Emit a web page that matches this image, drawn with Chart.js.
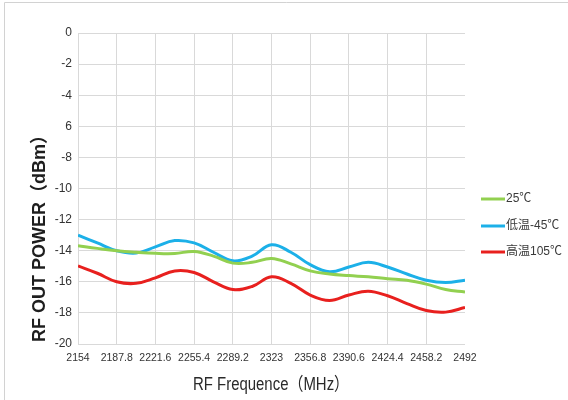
<!DOCTYPE html>
<html>
<head>
<meta charset="utf-8">
<script src="https://cdn.jsdelivr.net/npm/chart.js@4/dist/chart.umd.min.js"></script>
<style>
  html, body { margin: 0; padding: 0; background: #ffffff; }
  #wrap { position: relative; width: 568px; height: 400px; }
</style>
</head>
<body>
<div id="wrap"><canvas id="c" width="568" height="400"></canvas></div>
<script>
// Measurement frequencies (MHz)
const freqs = [2154, 2170.9, 2187.8, 2204.7, 2221.6, 2238.5, 2255.4, 2272.3, 2289.2, 2306.1,
               2323, 2339.9, 2356.8, 2373.7, 2390.6, 2407.5, 2424.4, 2441.3, 2458.2, 2475.1, 2492];

// Output power (dBm) per temperature
const power25 = [-13.68, -13.85, -14.0, -14.1, -14.17, -14.18, -14.05, -14.35, -14.8, -14.75,
                 -14.5, -14.85, -15.3, -15.5, -15.6, -15.68, -15.8, -15.9, -16.15, -16.5, -16.65];
const powerLow = [-13.0, -13.5, -14.0, -14.15, -13.75, -13.35, -13.5, -14.1, -14.65, -14.35,
                  -13.62, -14.1, -14.9, -15.35, -15.05, -14.75, -15.05, -15.5, -15.9, -16.05, -15.9];
const powerHigh = [-14.98, -15.45, -16.0, -16.1, -15.75, -15.3, -15.4, -16.0, -16.5, -16.3,
                   -15.68, -16.1, -16.85, -17.2, -16.85, -16.6, -16.9, -17.4, -17.85, -17.95, -17.65];

const seriesNames = ['25℃', '低温-45℃', '高温105℃'];
const seriesColors = ['#92d050', '#1cb0e8', '#e8201e'];

// Axis ticks
const xTickValues = [2154, 2187.8, 2221.6, 2255.4, 2289.2, 2323, 2356.8, 2390.6, 2424.4, 2458.2, 2492];
const xTickLabels = ['2154', '2187.8', '2221.6', '2255.4', '2289.2', '2323', '2356.8', '2390.6', '2424.4', '2458.2', '2492'];
const yTickValues = [0, -2, -4, -6, -8, -10, -12, -14, -16, -18, -20];
const yTickLabels = ['0', '-2', '-4', '6', '-8', '-10', '-12', '-14', '-16', '-18', '-20'];

const xTitle = 'RF Frequence（MHz）';
const yTitle = 'RF OUT POWER（dBm）';

const narrowFont = '"Liberation Sans Narrow", "Liberation Sans", "Noto Sans CJK SC", sans-serif';

const seriesValues = [power25, powerLow, powerHigh];
const datasets = seriesValues.map((vals, s) => ({
  label: seriesNames[s],
  data: freqs.map((f, i) => ({ x: f, y: vals[i] })),
  borderColor: seriesColors[s],
  backgroundColor: seriesColors[s],
  borderWidth: 3,
  pointRadius: 0,
  tension: 0.4,
  fill: false
}));

// Frame, axis titles and the legend on the right
const decor = {
  id: 'decor',
  afterDraw(chart) {
    const ctx = chart.ctx;
    ctx.save();
    ctx.strokeStyle = '#d2d2d2';
    ctx.lineWidth = 1;
    ctx.beginPath();
    ctx.moveTo(4.5, 400);
    ctx.lineTo(4.5, 2.5);
    ctx.lineTo(568, 2.5);
    ctx.stroke();
    ctx.restore();

    ctx.save();
    ctx.translate(40, 234);
    ctx.rotate(-Math.PI / 2);
    ctx.font = 'bold 18px "Liberation Sans", "Noto Sans CJK SC", sans-serif';
    ctx.textAlign = 'center';
    ctx.textBaseline = 'middle';
    ctx.fillStyle = '#1e1e1e';
    ctx.fillText(yTitle, 0, 0);
    ctx.restore();

    ctx.save();
    ctx.translate(271, 385);
    ctx.scale(0.83, 1);
    ctx.font = '18px ' + narrowFont;
    ctx.textAlign = 'center';
    ctx.textBaseline = 'middle';
    ctx.fillStyle = '#2a2a2a';
    ctx.fillText(xTitle, 0, 0);
    ctx.restore();

    const legendY = [199, 226, 252];
    ctx.save();
    ctx.font = '12px ' + narrowFont;
    ctx.textBaseline = 'middle';
    ctx.textAlign = 'left';
    chart.data.datasets.forEach((ds, i) => {
      ctx.strokeStyle = ds.borderColor;
      ctx.lineWidth = 3;
      ctx.beginPath();
      ctx.moveTo(481, legendY[i]);
      ctx.lineTo(505, legendY[i]);
      ctx.stroke();
      ctx.fillStyle = '#3a3a3a';
      ctx.fillText(ds.label, 506, legendY[i]);
    });
    ctx.restore();
  }
};

new Chart(document.getElementById('c'), {
  type: 'line',
  data: { datasets },
  options: {
    responsive: false,
    animation: false,
    devicePixelRatio: 1,
    layout: { padding: { left: 0, right: 103, top: 33, bottom: 0 } },
    plugins: { legend: { display: false }, tooltip: { enabled: false } },
    scales: {
      x: {
        type: 'linear',
        min: 2154,
        max: 2492,
        afterBuildTicks(scale) { scale.ticks = xTickValues.map(v => ({ value: v })); },
        afterFit(scale) { scale.height = 56; },
        border: { display: false },
        grid: {
          drawTicks: false,
          lineWidth: 1,
          color: (c) => (c.index === xTickValues.length - 1 ? 'rgba(0,0,0,0)' : '#d9d9d9')
        },
        ticks: {
          autoSkip: false,
          maxRotation: 0,
          padding: 8,
          color: '#333333',
          font: { family: narrowFont, size: 10.5 },
          callback: (v, i) => xTickLabels[i]
        }
      },
      y: {
        min: -20,
        max: 0,
        afterBuildTicks(scale) { scale.ticks = yTickValues.map(v => ({ value: v })); },
        afterFit(scale) { scale.width = 78; },
        border: { display: false },
        grid: { drawTicks: false, lineWidth: 1, color: '#d9d9d9' },
        ticks: {
          padding: 6,
          color: '#333333',
          font: { family: narrowFont, size: 12 },
          callback: (v) => yTickLabels[yTickValues.indexOf(v)]
        }
      }
    }
  },
  plugins: [decor]
});
</script>
</body>
</html>
